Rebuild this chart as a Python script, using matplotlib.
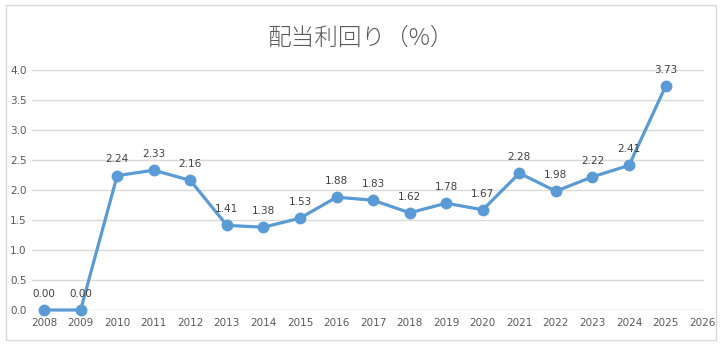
import matplotlib
matplotlib.use("Agg")
import matplotlib.pyplot as plt
from matplotlib.patches import Rectangle

years = [2008, 2009, 2010, 2011, 2012, 2013, 2014, 2015, 2016, 2017,
         2018, 2019, 2020, 2021, 2022, 2023, 2024, 2025]
yields = [0.00, 0.00, 2.24, 2.33, 2.16, 1.41, 1.38, 1.53, 1.88, 1.83,
          1.62, 1.78, 1.67, 2.28, 1.98, 2.22, 2.41, 3.73]
x_ticks = list(range(2008, 2027))
y_ticks = [0.0, 0.5, 1.0, 1.5, 2.0, 2.5, 3.0, 3.5, 4.0]
title = "配当利回り（%）"

plt.rcParams['font.family'] = ['Noto Sans CJK JP', 'DejaVu Sans']

W, H = 722, 345
fig = plt.figure(figsize=(W / 100, H / 100), dpi=100)
fig.patch.set_facecolor('white')
fig.patches.append(Rectangle((6 / W, 5 / H), 710 / W, 335 / H, transform=fig.transFigure,
                             fill=False, edgecolor='#D9D9D9', linewidth=1.0))

ax = fig.add_axes([32 / W, (H - 310) / H, (704 - 32) / W, 240 / H])
line_color = '#5B9BD5'
ax.plot(years, yields, color=line_color, linewidth=2.3, marker='o', markersize=7.5,
        markerfacecolor=line_color, markeredgecolor=line_color, clip_on=False, zorder=3)

for x, y in zip(years, yields):
    ax.annotate(f"{y:.2f}", (x, y), xytext=(0, 8), textcoords='offset points',
                ha='center', va='bottom', fontsize=7.5, color='#404040',
                family=['DejaVu Sans'])

ax.set_xlim(2007.67, 2026.05)
ax.set_ylim(0, 4.0)
ax.set_xticks(x_ticks)
ax.set_xticklabels([str(t) for t in x_ticks])
ax.set_yticks(y_ticks)
ax.set_yticklabels([f"{t:.1f}" for t in y_ticks])
ax.tick_params(axis='both', length=0, labelsize=7.5, labelcolor='#595959')
ax.tick_params(axis='y', pad=4)
ax.tick_params(axis='x', pad=6)
for lab in ax.get_xticklabels() + ax.get_yticklabels():
    lab.set_family(['DejaVu Sans'])
ax.grid(axis='y', color='#D9D9D9', linewidth=1.0)
ax.set_axisbelow(True)
for s in ax.spines.values():
    s.set_visible(False)

fig.text(0.5, (H - 38) / H, title, ha='center', va='center', fontsize=17,
         color='#595959', fontweight='light')

fig.savefig('out.png', dpi=100, facecolor='white')
